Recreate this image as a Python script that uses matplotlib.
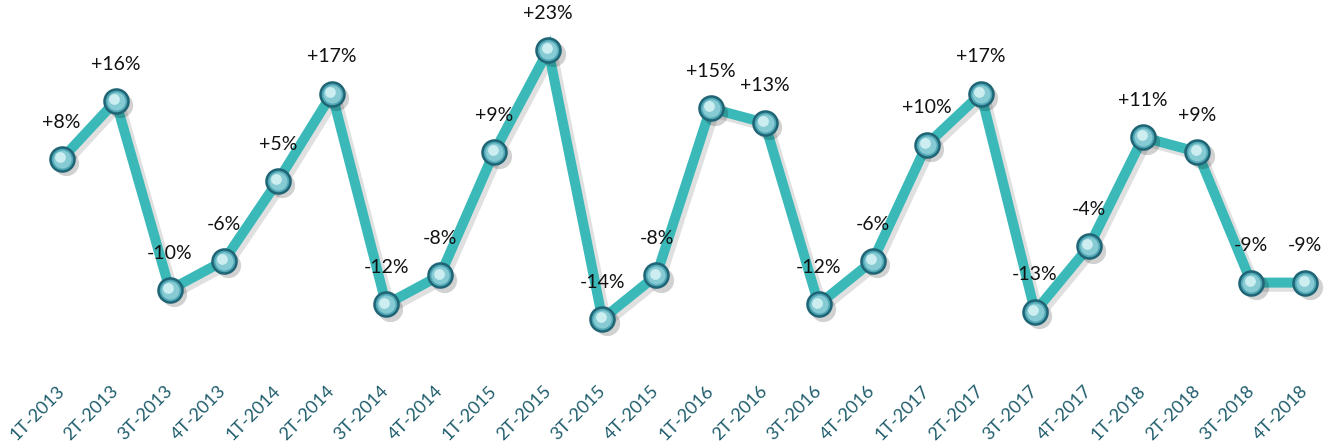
import numpy as np
import matplotlib.pyplot as plt

plt.rcParams['font.family'] = ['Lato', 'DejaVu Sans']

# quarters and growth values (%)
quarters = ["1T-2013", "2T-2013", "3T-2013", "4T-2013",
            "1T-2014", "2T-2014", "3T-2014", "4T-2014",
            "1T-2015", "2T-2015", "3T-2015", "4T-2015",
            "1T-2016", "2T-2016", "3T-2016", "4T-2016",
            "1T-2017", "2T-2017", "3T-2017", "4T-2017",
            "1T-2018", "2T-2018", "3T-2018", "4T-2018"]
growth = [8, 16, -10, -6, 5, 17, -12, -8, 9, 23, -14, -8,
          15, 13, -12, -6, 10, 17, -13, -4, 11, 9, -9, -9]

x = np.arange(len(quarters))
y = np.array(growth)

W, H = 1330, 444
fig = plt.figure(figsize=(W/100, H/100), dpi=100)
ax = fig.add_axes([40/W, 1 - 340/H, (1327 - 40)/W, 340/H])

# soft shadow under line and markers
ax.plot(x + 0.06, y - 0.45, color="#000000", alpha=0.12, lw=8.5,
        solid_joinstyle="round", zorder=1, clip_on=False)
ax.plot(x, y, color="#3bb9b9", lw=7.2, solid_joinstyle="miter", zorder=2, clip_on=False)
ax.scatter(x + 0.08, y - 0.6, s=330, color="#000000", alpha=0.18, zorder=3, lw=0, clip_on=False)

# sphere-like markers
ax.scatter(x, y, s=300, color="#4fa6b4", edgecolors="#1f6575", linewidths=1.8, zorder=4, clip_on=False)
ax.scatter(x, y, s=170, color="#86cad3", lw=0, zorder=5, clip_on=False)
ax.scatter(x - 0.03, y + 0.25, s=60, color="#cdeef1", lw=0, zorder=6, clip_on=False)

for xi, yi in zip(x, y):
    lab = "%+d%%" % yi
    ax.annotate(lab, (xi, yi), xytext=(0, 26.5), textcoords="offset points",
                ha="center", va="center", fontsize=14, color="#111111")

ax.set_xlim(-0.4, 23.4)
ax.set_ylim(-16.9, 29.9)
ax.set_xticks(x)
ax.set_xticklabels(quarters, rotation=45, ha="right", va="center",
                   rotation_mode="anchor", fontsize=13, color="#1f5d6c")
ax.tick_params(axis="x", length=0, pad=35)
ax.set_yticks([])
for s in ax.spines.values():
    s.set_visible(False)

plt.savefig("out.png", dpi=100)
